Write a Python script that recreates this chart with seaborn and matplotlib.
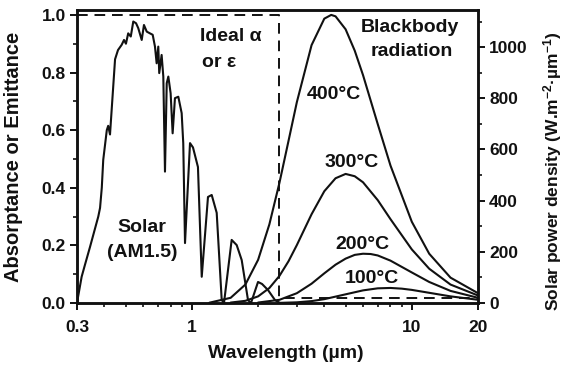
import numpy as np
import pandas as pd
import matplotlib
matplotlib.use("Agg")
import matplotlib.pyplot as plt
from matplotlib.ticker import FixedLocator, MultipleLocator, NullFormatter, FormatStrFormatter
import seaborn as sns

# AM1.5 solar spectrum, scaled to the absorptance axis
solar_wl = [0.300, 0.315, 0.326, 0.344, 0.375, 0.382, 0.389, 0.395, 0.410, 0.416,
            0.424, 0.447, 0.461, 0.479, 0.491, 0.501, 0.513, 0.527, 0.541, 0.557,
            0.570, 0.591, 0.605, 0.623, 0.644, 0.663, 0.679, 0.691, 0.703, 0.710,
            0.728, 0.741, 0.754, 0.768, 0.781, 0.800, 0.817, 0.837, 0.867, 0.898,
            0.913, 0.930, 0.980, 1.011, 1.065, 1.108, 1.183, 1.230, 1.296, 1.366,
            1.399, 1.516, 1.598, 1.684, 1.799, 1.856, 1.998, 2.084, 2.218, 2.387,
            2.515]
solar_val = [0.000, 0.091, 0.132, 0.195, 0.300, 0.330, 0.400, 0.497, 0.600, 0.615,
             0.585, 0.846, 0.878, 0.896, 0.913, 0.900, 0.936, 0.925, 0.977, 0.971,
             0.954, 0.913, 0.965, 0.942, 0.936, 0.931, 0.890, 0.832, 0.890, 0.798,
             0.861, 0.786, 0.456, 0.763, 0.786, 0.728, 0.589, 0.711, 0.716, 0.659,
             0.555, 0.208, 0.555, 0.540, 0.472, 0.091, 0.368, 0.375, 0.313, 0.010,
             0.000, 0.219, 0.201, 0.149, 0.010, 0.000, 0.073, 0.066, 0.045, 0.010,
             0.000]

# Blackbody spectral emission, normalised to the 400 °C maximum
bb400_wl = [1.2, 1.5, 1.75, 2.0, 2.25, 2.5, 2.75, 3.0, 3.5, 4.0, 4.3, 4.5, 5.0,
            5.5, 6.0, 7.0, 8.0, 10.0, 12.0, 15.0, 20.0]
bb400_val = [0.001, 0.018, 0.064, 0.150, 0.273, 0.417, 0.563, 0.697, 0.895, 0.987,
             1.000, 0.995, 0.950, 0.876, 0.791, 0.621, 0.477, 0.282, 0.171, 0.088,
             0.034]
bb300_wl = [1.5, 1.75, 2.0, 2.25, 2.5, 2.75, 3.0, 3.5, 4.0, 4.5, 5.0, 5.5, 6.0,
            7.0, 8.0, 10.0, 12.0, 15.0, 20.0]
bb300_val = [0.0015, 0.0075, 0.023, 0.052, 0.094, 0.145, 0.201, 0.308, 0.388, 0.433,
             0.448, 0.440, 0.419, 0.357, 0.291, 0.186, 0.119, 0.064, 0.026]
bb200_wl = [2.0, 2.5, 3.0, 3.5, 4.0, 4.5, 5.0, 5.5, 6.0, 6.5, 7.0, 8.0, 10.0,
            12.0, 15.0, 20.0]
bb200_val = [0.0016, 0.011, 0.034, 0.067, 0.103, 0.133, 0.154, 0.167, 0.171, 0.170,
             0.165, 0.147, 0.106, 0.073, 0.042, 0.018]
bb100_wl = [2.5, 3.0, 3.5, 4.0, 5.0, 6.0, 7.0, 8.0, 9.0, 10.0, 12.0, 15.0, 20.0]
bb100_val = [0.0004, 0.0023, 0.0066, 0.0133, 0.0301, 0.0438, 0.0509, 0.0522,
             0.0498, 0.0455, 0.0354, 0.0230, 0.0112]

# Ideal selective surface: alpha = 1 below the cut-off, epsilon ~ 0 above
ideal_wl = [0.3, 2.5, 2.5, 20.0]
ideal_val = [1.0, 1.0, 0.017, 0.017]

x_ticks = [0.3, 1, 10, 20]
x_ticklabels = ["0.3", "1", "10", "20"]

sns.set_theme(style="ticks")
plt.rcParams["font.family"] = ["Liberation Sans", "DejaVu Sans"]
plt.rcParams["font.weight"] = "bold"
plt.rcParams["mathtext.fontset"] = "custom"
plt.rcParams["mathtext.rm"] = "Liberation Sans:bold"
plt.rcParams["mathtext.default"] = "rm"
plt.rcParams["axes.unicode_minus"] = True

ink = "#111111"
fig = plt.figure(figsize=(5.66, 3.72), dpi=100)
ax = fig.add_axes([0.136, 0.1855, 0.7085, 0.7876])

lw = 1.5
for wl, val in [(solar_wl, solar_val), (bb400_wl, bb400_val), (bb300_wl, bb300_val),
                (bb200_wl, bb200_val), (bb100_wl, bb100_val)]:
    df = pd.DataFrame({"wl": wl, "val": val})
    sns.lineplot(data=df, x="wl", y="val", ax=ax, color=ink, lw=lw,
                 estimator=None, sort=False)
df_ideal = pd.DataFrame({"wl": ideal_wl, "val": ideal_val})
sns.lineplot(data=df_ideal, x="wl", y="val", ax=ax, color=ink, lw=1.4,
             estimator=None, sort=False, dashes=False, linestyle=(0, (5.5, 3.5)))

ax.set_xscale("log")
ax.set_xlim(0.3, 20)
ax.set_ylim(0, 1.017)
ax.xaxis.set_major_locator(FixedLocator(x_ticks))
ax.set_xticklabels(x_ticklabels)
ax.xaxis.set_minor_locator(FixedLocator([0.4, 0.5, 0.6, 0.7, 0.8, 0.9,
                                         2, 3, 4, 5, 6, 7, 8, 9]))
ax.xaxis.set_minor_formatter(NullFormatter())
ax.yaxis.set_major_locator(MultipleLocator(0.2))
ax.yaxis.set_minor_locator(MultipleLocator(0.1))
ax.yaxis.set_major_formatter(FormatStrFormatter("%.1f"))

ax2 = ax.twinx()
ax2.set_ylim(0, 1145)
ax2.yaxis.set_major_locator(MultipleLocator(200))
ax2.yaxis.set_minor_locator(MultipleLocator(100))

tick_fs = 12.5
for a in (ax, ax2):
    for side in ("top", "bottom", "left", "right"):
        a.spines[side].set_visible(True)
        a.spines[side].set_linewidth(1.8)
        a.spines[side].set_color(ink)
    a.tick_params(which="major", length=5, width=1.4, color=ink,
                  labelsize=tick_fs, labelcolor=ink, pad=3)
    a.tick_params(which="minor", length=3, width=1.2, color=ink)
ax.tick_params(axis="y", which="both", right=False)
ax.tick_params(axis="x", which="both", top=False)
ax.tick_params(axis="x", which="major", pad=7)
for lab in ax.get_xticklabels() + ax.get_yticklabels() + ax2.get_yticklabels():
    lab.set_fontweight("bold")

lab_fs = 14
ax.set_xlabel("Wavelength (µm)", fontsize=lab_fs, fontweight="bold", color=ink)
ax.xaxis.set_label_coords(0.52, -0.143)
ax.set_ylabel("Absorptance or Emittance", fontsize=14.5, fontweight="bold", color=ink)
ax.yaxis.set_label_coords(-0.135, 0.50)
ax2.set_ylabel("Solar power density (W.m$^{-2}$·µm$^{-1}$)", fontsize=12.5,
               fontweight="bold", color=ink, rotation=90)
ax2.yaxis.set_label_coords(1.157, 0.45)

txt = dict(transform=ax.transAxes, fontsize=14, fontweight="bold", color=ink,
           va="center")
ax.text(0.307, 0.908, "Ideal α", ha="left", **txt)
ax.text(0.312, 0.822, "or ε", ha="left", **txt)
ax.text(0.830, 0.942, "Blackbody", ha="center", **txt)
ax.text(0.835, 0.857, "radiation", ha="center", **txt)
ax.text(0.641, 0.710, "400°C", ha="center", **txt)
ax.text(0.686, 0.478, "300°C", ha="center", **txt)
ax.text(0.711, 0.198, "200°C", ha="center", **txt)
ax.text(0.736, 0.085, "100°C", ha="center", **txt)
ax.text(0.162, 0.259, "Solar", ha="center", **txt)
ax.text(0.162, 0.174, "(AM1.5)", ha="center", **txt)

fig.savefig("out.png", dpi=100)
